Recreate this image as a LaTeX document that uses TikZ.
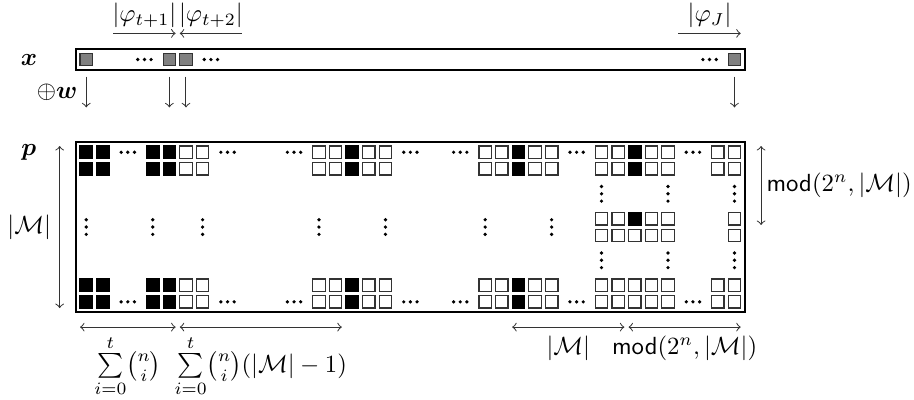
\documentclass[tikz,border=0pt]{standalone}
\usepackage{amsmath}
\tikzset{
  onebit/.style={draw=black, fill=black, line width=0.5pt},
  zerobit/.style={draw=black!80, fill=white, line width=0.5pt},
  symbit/.style={draw=black!80, fill=black!50, line width=0.5pt},
  vecframe/.style={draw=black, line width=0.8pt},
  dimline/.style={draw=black!80, line width=0.4pt},
}
% one square of the code matrix, centred on column #2, row #3
\newcommand{\bitcell}[3]{\draw[#1] ({#2-0.375},{-#3-0.375}) rectangle ++(0.75,0.75);}
\newcommand{\rowdots}[2]{\foreach \d in {-0.4,0,0.4} {\fill ({#1+\d},{#2}) circle (0.11);}}
\newcommand{\coldots}[2]{\foreach \d in {-0.44,0,0.44} {\fill ({#1},{#2+\d}) circle (0.11);}}
\begin{document}
\begin{tikzpicture}[x=0.236cm, y=0.236cm]
  \useasboundingbox (-5.19,-14.85) rectangle (49.8,9.16);
  % symbol vector x
  \draw[vecframe] (-0.625,4.955) rectangle (39.625,6.205);
  \foreach \c in {0,5,6,39} {\draw[symbit] ({\c-0.375},5.205) rectangle ++(0.75,0.75);}
  \foreach \c in {3.5,7.5,37.5} {\rowdots{\c}{5.58}}
  \node (xlab) at (-3.45,5.58) {$\boldsymbol{x}$};
  % sub-symbol widths
  \coordinate (ph1a) at (1.625,7.15);  \coordinate (ph1b) at (5.375,7.15);
  \coordinate (ph2a) at (5.625,7.15);  \coordinate (ph2b) at (9.375,7.15);
  \coordinate (phJa) at (35.625,7.15); \coordinate (phJb) at (39.375,7.15);
  \draw[dimline,->] (ph1a) -- node[above=2pt,inner sep=0pt] (ph1lab) {$|\varphi_{t+1}|$} (ph1b);
  \draw[dimline,<-] (ph2a) -- node[above=2pt,inner sep=0pt] (ph2lab) {$|\varphi_{t+2}|$} (ph2b);
  \draw[dimline,->] (phJa) -- node[above=2pt,inner sep=0pt] (phJlab) {$|\varphi_J|$} (phJb);
  % x -> p
  \foreach \c in {0,5,6,39} {\coordinate (xs\c) at (\c,4.55); \coordinate (pt\c) at (\c,2.7);}
  \draw[dimline,->] (xs0) -- node[left] (wlab) {$\oplus\boldsymbol{w}$} (pt0);
  \foreach \c in {5,6,39} {\draw[dimline,->] (xs\c) -- (pt\c);}
  % matrix p
  \draw[vecframe] (-0.625,0.625) rectangle (39.625,-9.625);
  \node (plab) at (-3.45,0) {$\boldsymbol{p}$};
  \foreach \r in {0,1,8,9} {
    \foreach \c in {0,1,4,5,16,26} {\bitcell{onebit}{\c}{\r}}
    \foreach \c in {6,7,14,15,17,18,24,25,27,28,38} {\bitcell{zerobit}{\c}{\r}}
  }
  \foreach \r in {0,1,4,5,8,9} {
    \foreach \c in {31,32,34,35,39} {\bitcell{zerobit}{\c}{\r}}
  }
  \foreach \r in {0,1,4} {\bitcell{onebit}{33}{\r}}
  \foreach \r in {5,8,9} {\bitcell{zerobit}{33}{\r}}
  \foreach \y in {0,-9} {
    \foreach \c in {2.5,8.5,12.5,19.5,22.5,29.5,36.5} {\rowdots{\c}{\y}}
  }
  \foreach \c in {0,4,7,14,18,24,28} {\coldots{\c}{-4.5}}
  \foreach \c in {31,35,39} {\coldots{\c}{-2.5} \coldots{\c}{-6.5}}
  % dimensions of p
  \coordinate (mtop) at (-1.6,0.375);  \coordinate (mbot) at (-1.6,-9.375);
  \coordinate (rtop) at (40.6,0.375);  \coordinate (rbot) at (40.6,-4.375);
  \draw[dimline,<->] (mtop) -- node[left] (mlab) {$|\mathcal{M}|$} (mbot);
  \draw[dimline,<->] (rtop) -- node[right,inner sep=2pt] (rlab) {$\mathsf{mod}(2^n,|\mathcal{M}|)$} (rbot);
  \coordinate (b0) at (-0.375,-10.52); \coordinate (b1) at (5.375,-10.52);
  \coordinate (b2) at (5.625,-10.52);  \coordinate (b3) at (15.375,-10.52);
  \coordinate (b4) at (25.625,-10.52); \coordinate (b5) at (32.375,-10.52);
  \coordinate (b6) at (32.625,-10.52); \coordinate (b7) at (39.375,-10.52);
  \draw[dimline,<->] (b0) -- node[below,inner xsep=0pt] (s1lab) {$\sum\limits_{i=0}^{t}\!\binom{n}{i}$} (b1);
  \draw[dimline,<->] (b2) -- node[below,inner xsep=0pt] (s2lab) {$\sum\limits_{i=0}^{t}\!\binom{n}{i}(|\mathcal{M}|-1)$} (b3);
  \draw[dimline,<->] (b4) -- node[below,inner xsep=0pt] (mlab2) {$|\mathcal{M}|$} (b5);
  \draw[dimline,<->] (b6) -- node[below,inner xsep=0pt] (rlab2) {$\mathsf{mod}(2^n,|\mathcal{M}|)$} (b7);
\end{tikzpicture}
\end{document}
